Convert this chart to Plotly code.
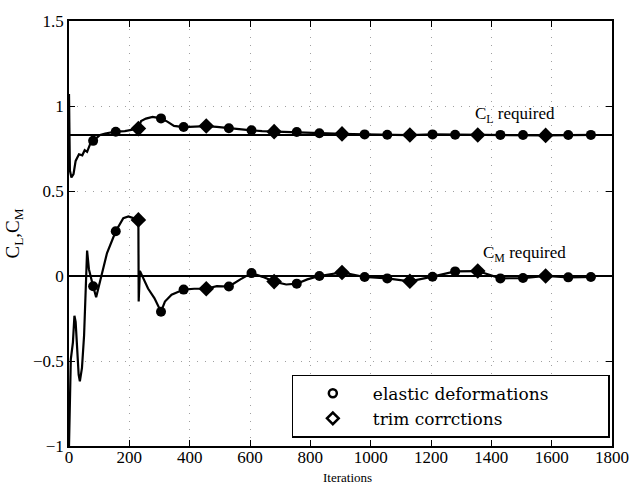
import plotly.graph_objects as go

# ---- data ----
cl_iter = [0, 3, 8, 15, 22, 33, 44, 52, 60, 71, 80, 92, 103, 120, 155, 185, 217, 230, 239,
           255, 277, 305, 326, 348, 380, 413, 455, 490, 530, 570, 605, 640, 680, 720, 755,
           830, 905, 980, 1055, 1130, 1205, 1280, 1355, 1430, 1505, 1580, 1655, 1730, 1745]
cl_vals = [1.07, 0.62, 0.58, 0.60, 0.677, 0.716, 0.71, 0.74, 0.73, 0.78, 0.795, 0.815, 0.83,
           0.838, 0.849, 0.852, 0.86, 0.867, 0.912, 0.926, 0.936, 0.927, 0.908, 0.883, 0.876,
           0.877, 0.882, 0.877, 0.869, 0.862, 0.857, 0.852, 0.849, 0.848, 0.847, 0.840, 0.836,
           0.833, 0.831, 0.829, 0.833, 0.831, 0.829, 0.830, 0.829, 0.827, 0.829, 0.830, 0.830]

cm_iter = [0, 3, 6, 13, 18, 22, 32, 36, 43, 50, 56, 60, 66, 72, 80, 90, 105, 126, 155, 180,
           197, 213, 230, 231, 235, 262, 283, 305, 318, 340, 380, 415, 455, 490, 530, 568,
           605, 642, 680, 720, 755, 790, 830, 905, 980, 1055, 1130, 1205, 1280, 1355, 1430,
           1505, 1580, 1655, 1730, 1745]
cm_vals = [-1.0, -0.74, -0.49, -0.39, -0.234, -0.27, -0.58, -0.62, -0.54, -0.35, -0.06, 0.15,
           0.04, -0.01, -0.06, -0.125, -0.01, 0.135, 0.263, 0.34, 0.35, 0.34, 0.33, -0.15,
           0.03, -0.074, -0.13, -0.21, -0.15, -0.11, -0.08, -0.075, -0.075, -0.06, -0.062,
           -0.02, 0.017, -0.005, -0.033, -0.05, -0.045, -0.02, 0.0, 0.021, -0.006, -0.014,
           -0.031, -0.004, 0.027, 0.029, -0.014, -0.012, 0.0, -0.008, -0.006, -0.006]

elastic_iter = [80, 155, 305, 380, 530, 605, 755, 830, 980, 1055, 1205, 1280, 1430, 1505, 1655, 1730]
elastic_cl = [0.795, 0.849, 0.927, 0.876, 0.869, 0.857, 0.847, 0.840, 0.833, 0.831, 0.833,
              0.831, 0.830, 0.829, 0.829, 0.830]
elastic_cm = [-0.06, 0.263, -0.21, -0.08, -0.062, 0.017, -0.045, 0.0, -0.006, -0.014, -0.004,
              0.027, -0.014, -0.012, -0.008, -0.006]

trim_iter = [230, 455, 680, 905, 1130, 1355, 1580]
trim_cl = [0.867, 0.882, 0.849, 0.836, 0.829, 0.829, 0.827]
trim_cm = [0.33, -0.075, -0.033, 0.021, -0.031, 0.029, 0.0]

cl_required = 0.83
cm_required = 0.0
x_range = [0, 1800]
x_ticks = [0, 200, 400, 600, 800, 1000, 1200, 1400, 1600, 1800]
y_ticks = [-1, -0.5, 0, 0.5, 1, 1.5]
y_ticktext = ["\u22121", "\u22120.5", "0", "0.5", "1", "1.5"]

SERIF = "Liberation Serif, Times New Roman, serif"
WIDE_SERIF = "DejaVu Serif, serif"
PAD = "\u00a0" * 10  # widen the legend box like the reference

fig = go.Figure()

# required lines
fig.add_trace(go.Scatter(x=x_range, y=[cl_required, cl_required], mode="lines",
                         line=dict(color="black", width=2), showlegend=False, hoverinfo="skip"))
fig.add_trace(go.Scatter(x=x_range, y=[cm_required, cm_required], mode="lines",
                         line=dict(color="black", width=2), showlegend=False, hoverinfo="skip"))

# convergence curves
fig.add_trace(go.Scatter(x=cl_iter, y=cl_vals, mode="lines",
                         line=dict(color="black", width=2.2), showlegend=False))
fig.add_trace(go.Scatter(x=cm_iter, y=cm_vals, mode="lines",
                         line=dict(color="black", width=2.2), showlegend=False))

# markers on curves
fig.add_trace(go.Scatter(x=elastic_iter + elastic_iter, y=elastic_cl + elastic_cm, mode="markers",
                         marker=dict(symbol="circle", size=10, color="black"), showlegend=False))
fig.add_trace(go.Scatter(x=trim_iter + trim_iter, y=trim_cl + trim_cm, mode="markers",
                         marker=dict(symbol="diamond", size=12, color="black"), showlegend=False))

# legend entries (open symbols)
fig.add_trace(go.Scatter(x=[None], y=[None], mode="markers", name="elastic deformations" + PAD,
                         marker=dict(symbol="circle-open", size=8, color="black",
                                     line=dict(width=2.5, color="black"))))
fig.add_trace(go.Scatter(x=[None], y=[None], mode="markers", name="trim corrctions",
                         marker=dict(symbol="diamond-open", size=9, color="black",
                                     line=dict(width=2.5, color="black"))))

fig.add_annotation(x=1340, y=0.95, xanchor="left", yanchor="middle", showarrow=False,
                   text="C<sub>L</sub> required", font=dict(family=SERIF, size=17, color="black"))
fig.add_annotation(x=1365, y=0.13, xanchor="left", yanchor="middle", showarrow=False,
                   text="C<sub>M</sub> required", font=dict(family=SERIF, size=17, color="black"))
fig.add_annotation(x=0.513, y=-0.075, xref="paper", yref="paper", xanchor="center",
                   yanchor="middle", showarrow=False, text="Iterations",
                   font=dict(family=SERIF, size=13, color="black"))

axis_common = dict(showline=True, linecolor="black", linewidth=1.5, mirror="ticks",
                   ticks="inside", ticklen=6, tickcolor="black", tickwidth=1.2,
                   showgrid=True, gridcolor="#a0a0a0", griddash="1px,7px", gridwidth=1,
                   zeroline=False, tickfont=dict(family=SERIF, size=17, color="black"))

fig.update_xaxes(range=x_range, tickvals=x_ticks, ticklabelstandoff=-5, **axis_common)
fig.update_yaxes(range=[-1, 1.5], tickvals=y_ticks, ticktext=y_ticktext, **axis_common,
                 title=dict(text="C<sub>L</sub>,C<sub>M</sub>",
                            font=dict(family=SERIF, size=19, color="black"), standoff=8))

fig.update_layout(
    width=641, height=489,
    margin=dict(l=66, r=20, t=18, b=43),
    plot_bgcolor="white", paper_bgcolor="white",
    font=dict(family=SERIF, color="black"),
    legend=dict(x=0.41, y=0.02, xanchor="left", yanchor="bottom",
                bgcolor="white", bordercolor="black", borderwidth=1.2,
                font=dict(family=WIDE_SERIF, size=17, color="black"),
                itemwidth=70, tracegroupgap=0),
)

# remove the browser's default 8px body margin so the figure fills the window exactly
fig.write_html("out.html", config={"displayModeBar": False},
               post_script="document.body.style.margin='0';document.body.style.overflow='hidden';")
